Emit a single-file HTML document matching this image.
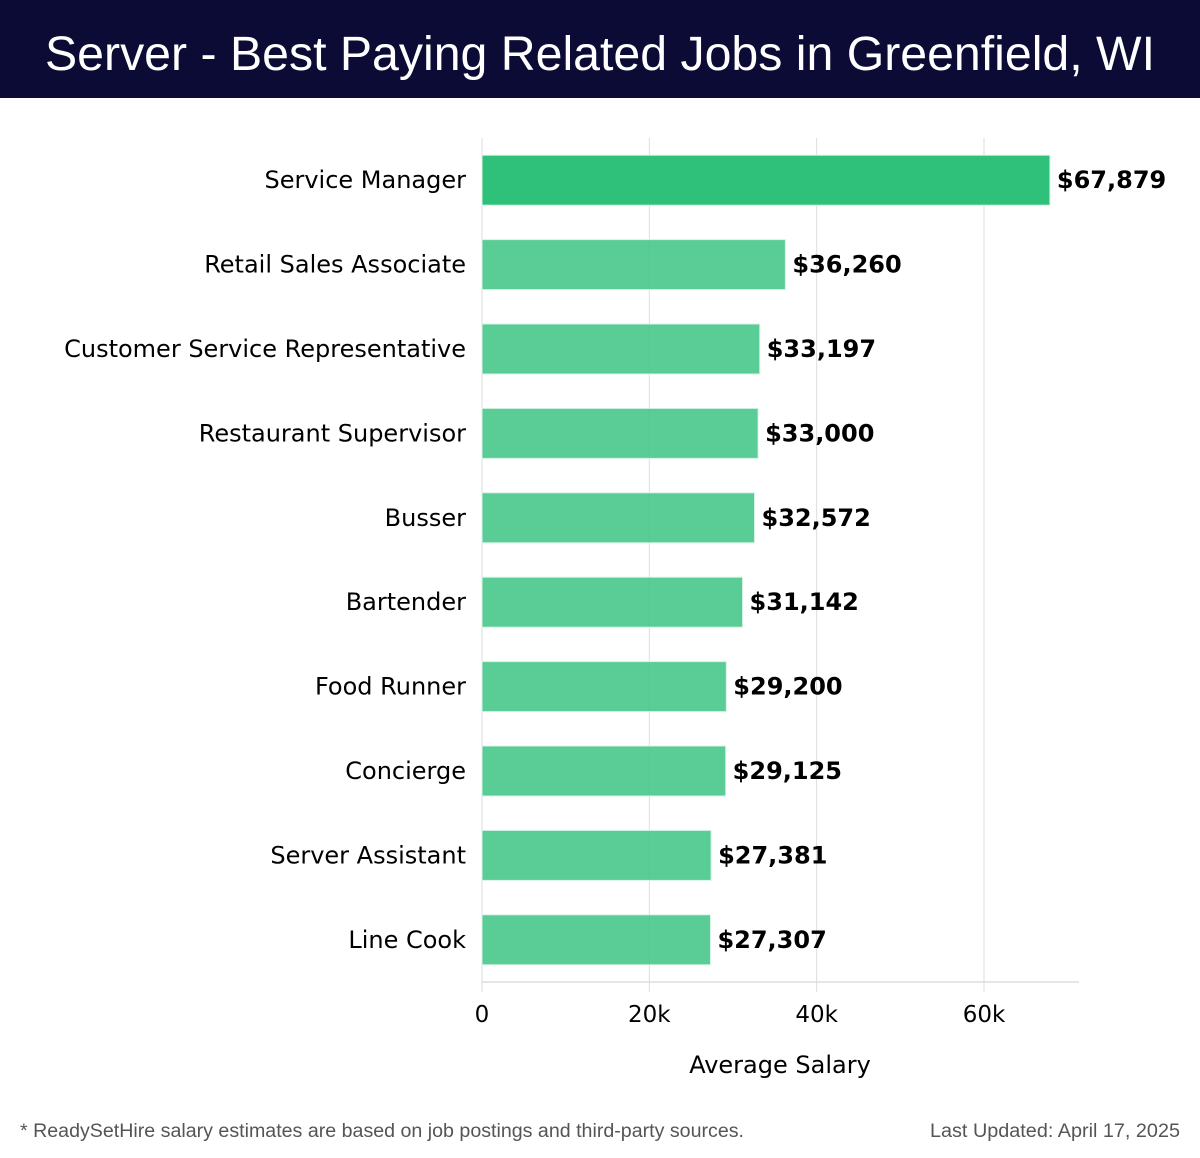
<!DOCTYPE html>
<html><head><meta charset="utf-8"><style>
html,body{margin:0;padding:0;background:#fff;}
svg{display:block;}
</style></head><body>
<svg width="1200" height="1158" xmlns="http://www.w3.org/2000/svg">
<rect x="0" y="0" width="1200" height="98" fill="#0b0b35"/>
<text x="600" y="70" text-anchor="middle" fill="#fff" font-family="Liberation Sans, sans-serif" font-size="48" textLength="1110" lengthAdjust="spacingAndGlyphs">Server - Best Paying Related Jobs in Greenfield, WI</text>
<g id="grid"></g>
<g id="bars"></g>
<g id="axis"></g>
<text x="780" y="1073" text-anchor="middle" font-family="DejaVu Sans, sans-serif" font-size="24" fill="#000">Average Salary</text>
<text x="20" y="1137" font-family="Liberation Sans, sans-serif" font-size="19" fill="#555" textLength="724" lengthAdjust="spacingAndGlyphs">* ReadySetHire salary estimates are based on job postings and third-party sources.</text>
<text x="1180" y="1137" text-anchor="end" font-family="Liberation Sans, sans-serif" font-size="19" fill="#555" textLength="250" lengthAdjust="spacingAndGlyphs">Last Updated: April 17, 2025</text>
</svg>
<script>
const categories = ["Service Manager","Retail Sales Associate","Customer Service Representative","Restaurant Supervisor","Busser","Bartender","Food Runner","Concierge","Server Assistant","Line Cook"];
const salaries = [67879,36260,33197,33000,32572,31142,29200,29125,27381,27307];
const tickValues = [0,20000,40000,60000];
const tickLabels = ["0","20k","40k","60k"];

const NS="http://www.w3.org/2000/svg";
const x0=482, pxPerUnit=(984-482)/60000, yTop=138, yBottom=982, xEnd=1079;
const band=(yBottom-yTop)/categories.length, barH=50;
const xs=v=>x0+v*pxPerUnit;
const yc=i=>yTop+band*(i+0.5);
function mk(tag,attrs,parent){const e=document.createElementNS(NS,tag);for(const k in attrs)e.setAttribute(k,attrs[k]);parent.appendChild(e);return e;}
const grid=document.getElementById('grid'), bars=document.getElementById('bars'), axis=document.getElementById('axis');
tickValues.forEach((v,i)=>{
  const l=mk('line',{x1:xs(v),x2:xs(v),y1:yTop,y2:yBottom+10,stroke:'#dddddd','stroke-width':1},grid);
  
  
  const t=mk('text',{x:xs(v),y:1022,'text-anchor':'middle','font-family':'DejaVu Sans, sans-serif','font-size':23,fill:'#000'},axis);
  t.textContent=tickLabels[i];
  
  
});
const ax=mk('line',{x1:x0,x2:xEnd,y1:yBottom,y2:yBottom,stroke:'#dddddd','stroke-width':1.5},axis);


categories.forEach((c,i)=>{
  const y=yc(i);
  const r=mk('rect',{x:x0,y:y-barH/2,width:xs(salaries[i])-x0,height:barH,fill:i===0?'#2bbf77':'#47c88a','fill-opacity':i===0?0.98:0.9,stroke:'#d8f3e5','stroke-width':1},bars);
  
  
  const lab=mk('text',{x:466,y:y+8,'text-anchor':'end','font-family':'DejaVu Sans, sans-serif','font-size':24,fill:'#000'},bars);
  lab.textContent=c;
  
  
  const val=mk('text',{x:xs(salaries[i])+7,y:y+8,'font-family':'DejaVu Sans, sans-serif','font-size':24,'font-weight':'bold',fill:'#000'},bars);
  val.textContent='$'+salaries[i].toLocaleString('en-US');
  
  
});
</script>
</body></html>
